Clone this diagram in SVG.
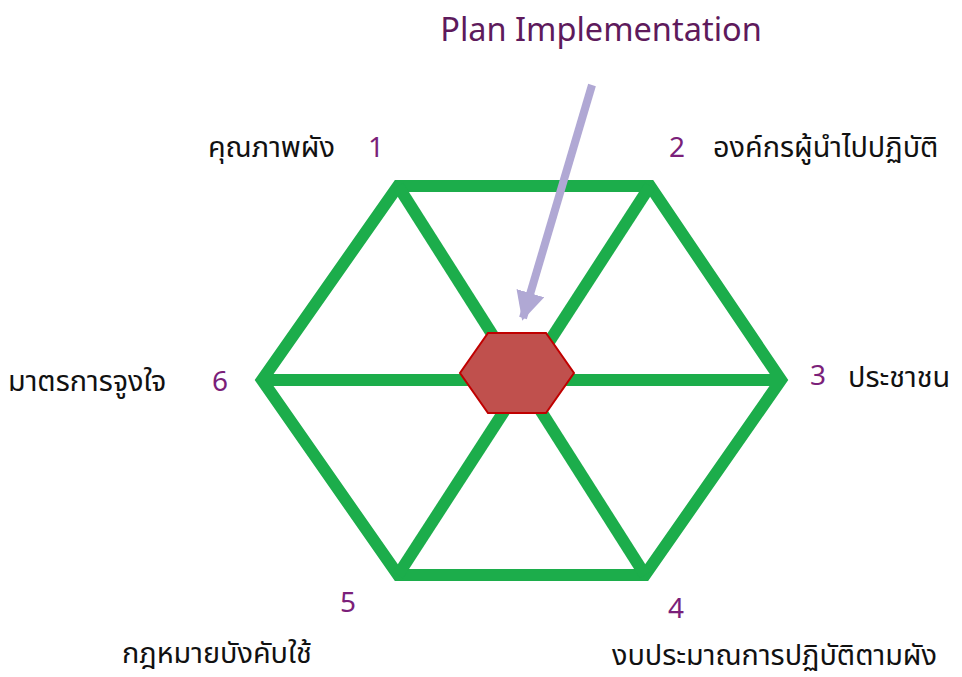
<svg xmlns="http://www.w3.org/2000/svg" width="962" height="677" viewBox="0 0 962 677">
<style>
.g{fill:none;stroke:#1cad4b;stroke-width:12;stroke-linejoin:miter}
.num{font-family:"Noto Sans","Open Sans",sans-serif;font-size:28px;fill:#7b1f7a}
.th{font-family:"Noto Sans Thai","Noto Sans","Noto Sans CJK SC",sans-serif;font-size:28.8px;fill:#111}
.title{font-family:"Noto Sans","Open Sans",sans-serif;font-size:32.5px;fill:#5e1a5c}
</style>
<defs>
<marker id="ah" viewBox="0 0 10 10" refX="9" refY="5" markerWidth="3.6" markerHeight="3.6" orient="auto" markerUnits="strokeWidth">
<path d="M0,0 L10,5 L0,10 z" fill="#b0a8d4"/>
</marker>
</defs>
<rect width="962" height="677" fill="#ffffff"/>
<g id="connectors">
<polygon class="g" points="398,186 650,186 781,380 645,575 398,575 262,380"/>
<line class="g" x1="398" y1="186" x2="645" y2="575"/>
<line class="g" x1="650" y1="186" x2="398" y2="575"/>
<line class="g" x1="262" y1="380" x2="781" y2="380"/>
<line x1="592" y1="85" x2="523" y2="318" stroke="#b0a8d4" stroke-width="8" marker-end="url(#ah)"/>
</g>
<g id="center">
<polygon points="488,333 546,333 574,373 546,413 488,413 460,373" fill="#c0504d" stroke="#c00000" stroke-width="2"/>
</g>
<g id="title"><text class="title" x="601" y="41" text-anchor="middle">Plan Implementation</text></g>
<g id="n1"><text class="num" x="376" y="157" text-anchor="middle">1</text><text class="th" x="335" y="157" text-anchor="end">คุณภาพผัง</text></g>
<g id="n2"><text class="num" x="677" y="157" text-anchor="middle">2</text><text class="th" x="713" y="157">องค์กรผู้นำไปปฏิบัติ</text></g>
<g id="n3"><text class="num" x="818" y="385" text-anchor="middle">3</text><text class="th" x="848" y="387">ประชาชน</text></g>
<g id="n4"><text class="num" x="676" y="618" text-anchor="middle">4</text><text class="th" x="612" y="665">งบประมาณการปฏิบัติตามผัง</text></g>
<g id="n5"><text class="num" x="348" y="612" text-anchor="middle">5</text><text class="th" x="122" y="663">กฎหมายบังคับใช้</text></g>
<g id="n6"><text class="num" x="220" y="391" text-anchor="middle">6</text><text class="th" x="8" y="391">มาตรการจูงใจ</text></g>
</svg>
